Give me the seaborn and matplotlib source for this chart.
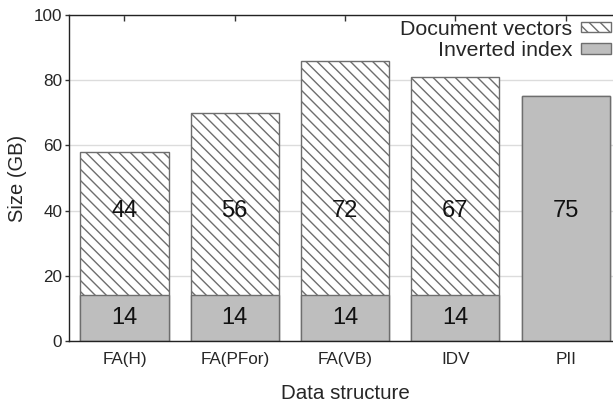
import matplotlib
matplotlib.use("Agg")
import matplotlib.pyplot as plt
import seaborn as sns
from matplotlib.patches import Patch

structures = ["FA(H)", "FA(PFor)", "FA(VB)", "IDV", "PII"]
inverted_index = [14, 14, 14, 14, 75]
doc_vectors = [44, 56, 72, 67, 0]

sns.set_style("ticks")
plt.rcParams["font.family"] = ["Liberation Sans", "DejaVu Sans"]

totals = [a + b for a, b in zip(inverted_index, doc_vectors)]

fig = plt.figure(figsize=(6.13, 4.04), dpi=100)
ax = fig.add_axes([69.3 / 613, 63 / 404, 551.5 / 613, 326 / 404])

edge = "#6e6e6e"
gray = "#bebebe"

# hatched document-vector part (full height), then the inverted index on top
sns.barplot(x=structures, y=totals, color="white", saturation=1, width=0.8,
            edgecolor=edge, linewidth=1.0, hatch="\\\\\\", ax=ax)
sns.barplot(x=structures, y=inverted_index, color=gray, saturation=1, width=0.8,
            edgecolor=edge, linewidth=1.0, ax=ax)

# labels: upper ones all sit at y=40, lower ones in the middle of the gray part
label_y = 40
for i, (inv, doc) in enumerate(zip(inverted_index, doc_vectors)):
    y_inv = inv / 2 if doc > 0 else label_y
    ax.text(i, y_inv, str(inv), ha="center", va="center", fontsize=17, color="#111111")
    if doc > 0:
        ax.text(i, label_y, str(doc), ha="center", va="center", fontsize=17, color="#111111")

ax.set_ylim(0, 100)
ax.set_xlim(-0.5, 4.5)
ax.set_yticks([0, 20, 40, 60, 80, 100])
ax.yaxis.grid(True, color="#dcdcdc", linewidth=1.0)
ax.set_axisbelow(True)

ax.set_ylabel("Size (GB)", fontsize=14.5, labelpad=5)
ax.set_xlabel("Data structure", fontsize=14.8, labelpad=12)
ax.tick_params(axis="y", labelsize=12.3, length=3, width=1, direction="out",
               color="#333333", pad=2)
ax.xaxis.set_ticks_position("both")
ax.tick_params(axis="x", labelsize=12.3, direction="in", length=4, width=1,
               color="#333333", pad=8)
for t in ax.xaxis.get_major_ticks():
    t.tick1line.set_visible(False)

for side in ["left", "top", "bottom", "right"]:
    ax.spines[side].set_visible(True)
    ax.spines[side].set_color("#222222")
    ax.spines[side].set_linewidth(1.0)

handles = [Patch(facecolor="white", edgecolor=edge, hatch="\\\\\\", label="Document vectors"),
           Patch(facecolor=gray, edgecolor=edge, label="Inverted index")]
fig.legend(handles=handles, loc="upper right", bbox_to_anchor=(611 / 613, (404 - 20) / 404),
           frameon=False, markerfirst=False, fontsize=15.4, handlelength=1.4,
           handleheight=0.35, handletextpad=0.4, labelspacing=0.1,
           borderpad=0, borderaxespad=0)

fig.savefig("out.png", dpi=100)
